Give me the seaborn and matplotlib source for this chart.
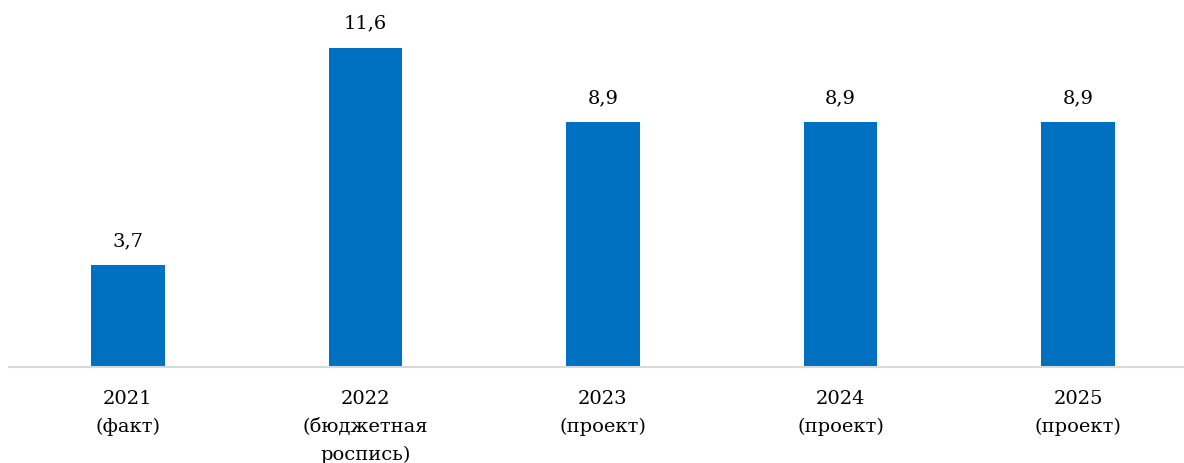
import matplotlib
matplotlib.use("Agg")
import matplotlib.pyplot as plt
import seaborn as sns
import pandas as pd

# data
categories = ["2021\n(факт)", "2022\n(бюджетная\nроспись)", "2023\n(проект)",
              "2024\n(проект)", "2025\n(проект)"]
values = [3.7, 11.6, 8.9, 8.9, 8.9]

BAR_COLOR = "#0070C0"

sns.set_theme(style="white")
plt.rcParams["font.family"] = ["DejaVu Serif"]

df = pd.DataFrame({"cat": categories, "val": values})

fig = plt.figure(figsize=(11.84, 4.63), dpi=100)
ax = fig.add_axes([9 / 1184, 96 / 463, 1175 / 1184, 367 / 463])

sns.barplot(data=df, x="cat", y="val", color=BAR_COLOR, width=0.31,
            saturation=1, linewidth=0, ax=ax)

ax.set_xlim(-0.5, 4.446)
ax.set_ylim(0, 367 / 27.5)

for i, v in enumerate(values):
    ax.annotate(f"{v:.1f}".replace(".", ","), (i, v), xytext=(0, 11),
                textcoords="offset points", ha="center", va="bottom",
                fontsize=14, color="black")

for s in ["top", "right", "left"]:
    ax.spines[s].set_visible(False)
ax.spines["bottom"].set_color("#D9D9D9")
ax.spines["bottom"].set_linewidth(1.5)
ax.set_yticks([])
ax.set_xlabel("")
ax.set_ylabel("")
ax.tick_params(axis="x", length=0, pad=16.5, labelsize=14, colors="black")
for lbl in ax.get_xticklabels():
    lbl.set_linespacing(1.7)

fig.savefig("out.png", dpi=100)
